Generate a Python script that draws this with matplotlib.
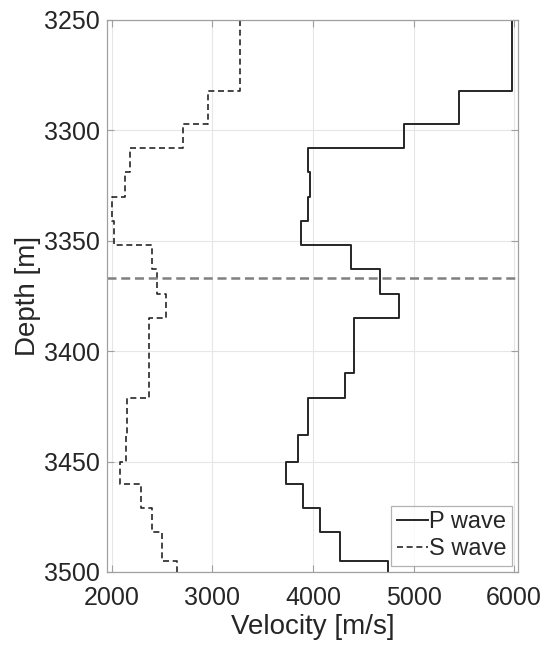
import numpy as np
import matplotlib
matplotlib.use('Agg')
import matplotlib.pyplot as plt

# layer boundaries [m] and interval velocities [m/s]
depth_bounds = [3250, 3282, 3297, 3308, 3319, 3330, 3341, 3352, 3363, 3374,
                3385, 3410, 3421, 3438, 3450, 3460, 3471, 3482, 3495, 3500]
vp = [5980, 5456, 4905, 3952, 3967, 3950, 3876, 4377, 4670, 4860,
      4412, 4316, 3951, 3848, 3731, 3897, 4067, 4266, 4744]
vs = [3275, 2953, 2710, 2179, 2133, 2005, 2015, 2402, 2445, 2538,
      2369, 2369, 2146, 2140, 2080, 2292, 2398, 2498, 2651]
target_depth = 3367

plt.rcParams['font.family'] = ['Liberation Sans', 'DejaVu Sans']

def blocky(bounds, vals):
    b = np.asarray(bounds)
    z = np.column_stack([b[:-1], b[1:]]).ravel()
    v = np.repeat(vals, 2)
    return v, z

fig = plt.figure(figsize=(5.43, 6.46), dpi=100)
ax = fig.add_axes([0.197, 0.1146, 0.757, 0.8545])

xp, zp = blocky(depth_bounds, vp)
xs, zs = blocky(depth_bounds, vs)
ax.plot(xp, zp, '-', color='#262626', lw=1.4, label='P wave')
ax.plot(xs, zs, '--', color='#262626', lw=1.2, dashes=(3.6, 2.2), label='S wave')
ax.axhline(target_depth, color='#808080', lw=1.8, ls='--', dashes=(3.6, 1.9))

ax.set_xlim(1950, 6040)
ax.set_ylim(3500, 3250)
ax.set_xticks([2000, 3000, 4000, 5000, 6000])
ax.set_yticks(np.arange(3250, 3501, 50))
ax.grid(True, color='#e6e6e6', lw=0.8)
ax.set_axisbelow(True)
for s in ax.spines.values():
    s.set_color('#a0a0a0')
    s.set_linewidth(0.9)
ax.tick_params(direction='in', top=True, right=True, length=5,
               color='#a0a0a0', labelsize=18, labelcolor='#262626')
ax.tick_params(axis='x', pad=10)
ax.tick_params(axis='y', pad=5)
ax.set_xlabel('Velocity [m/s]', fontsize=20, color='#262626', labelpad=3)
ax.set_ylabel('Depth [m]', fontsize=20, color='#262626', labelpad=2)

leg = ax.legend(loc='lower right', fontsize=17, frameon=True, fancybox=False,
                edgecolor='#a0a0a0', handlelength=1.3, handletextpad=0.05,
                borderpad=0.25, labelspacing=0.2, borderaxespad=0.25)
leg.get_frame().set_linewidth(0.9)
for t in leg.get_texts():
    t.set_color('#262626')

plt.savefig('out.png', dpi=100)
